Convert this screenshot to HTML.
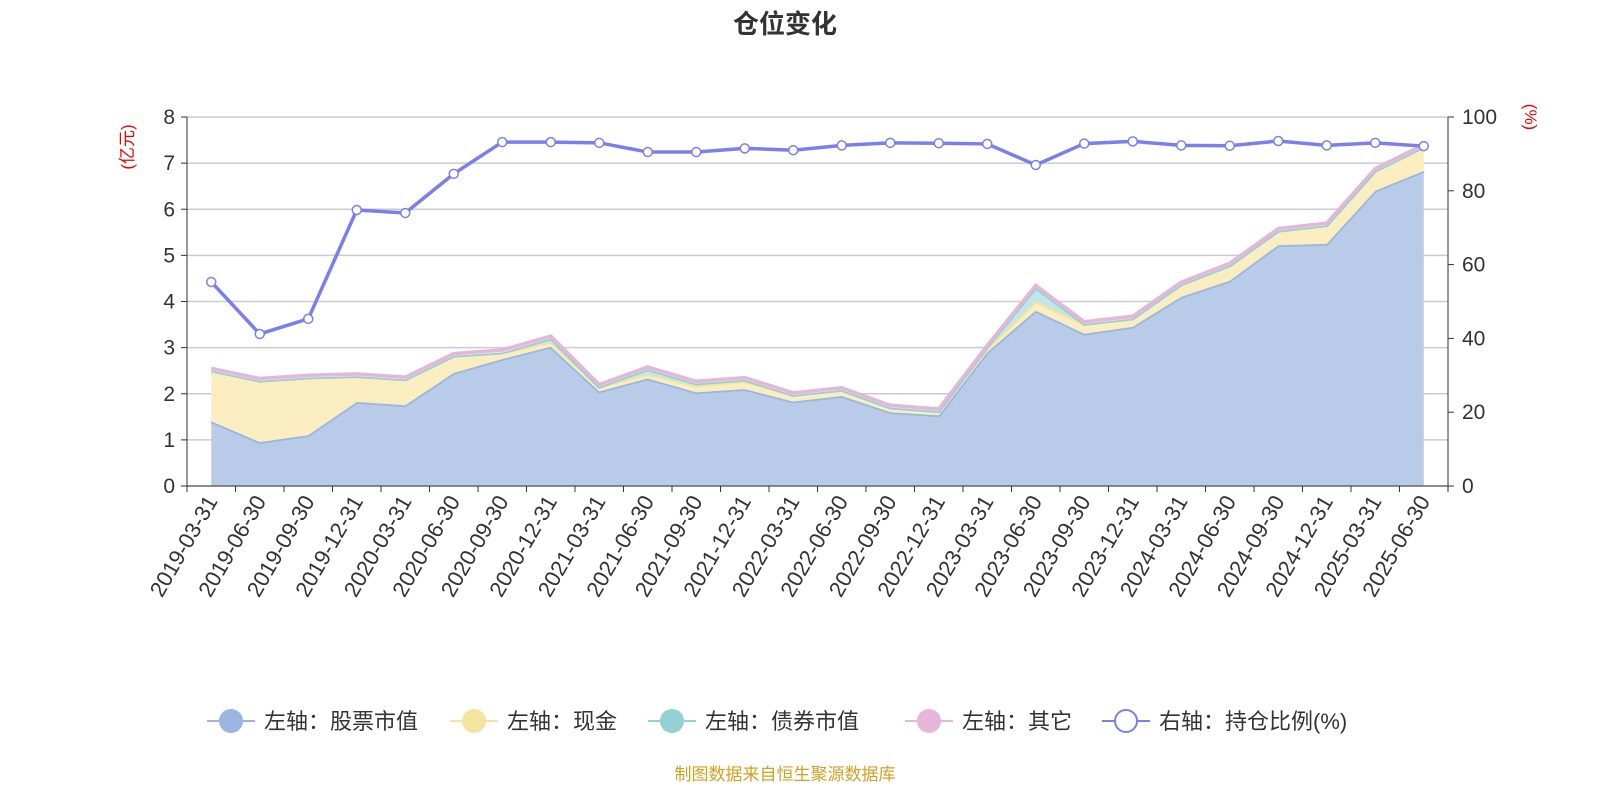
<!DOCTYPE html>
<html><head><meta charset="utf-8"><style>
body{margin:0;background:#fff;width:1600px;height:800px;overflow:hidden;font-family:"Liberation Sans","Noto Sans CJK SC",sans-serif}
</style></head><body>
<svg id="c" width="1600" height="800" xmlns="http://www.w3.org/2000/svg" font-family="Liberation Sans, Noto Sans CJK SC, sans-serif">
<text x="785" y="33" text-anchor="middle" font-size="26" font-weight="bold" fill="#333">仓位变化</text>
<text transform="translate(133,147) rotate(-90)" text-anchor="middle" font-size="17" fill="#e00">(亿元)</text>
<text transform="translate(1525,117) rotate(90)" text-anchor="middle" font-size="17" fill="#e00">(%)</text>
<g id="grid"></g><g id="areas"></g><g id="axes"></g><g id="ratio"></g>
<g id="legend"></g>
<text x="785" y="780" text-anchor="middle" font-size="17" fill="#d4a020">制图数据来自恒生聚源数据库</text>
</svg>
<script>
const categories=["2019-03-31","2019-06-30","2019-09-30","2019-12-31","2020-03-31","2020-06-30","2020-09-30","2020-12-31","2021-03-31","2021-06-30","2021-09-30","2021-12-31","2022-03-31","2022-06-30","2022-09-30","2022-12-31","2023-03-31","2023-06-30","2023-09-30","2023-12-31","2024-03-31","2024-06-30","2024-09-30","2024-12-31","2025-03-31","2025-06-30"];
const stockValues=[1.4,0.95,1.1,1.82,1.75,2.45,2.75,3.02,2.05,2.33,2.03,2.1,1.83,1.95,1.6,1.53,2.9,3.8,3.3,3.45,4.1,4.45,5.22,5.25,6.4,6.83];
const cashValues=[1.1,1.33,1.25,0.56,0.56,0.37,0.14,0.1,0.1,0.1,0.14,0.17,0.14,0.13,0.1,0.09,0.08,0.2,0.21,0.18,0.27,0.33,0.31,0.4,0.43,0.52];
const bondValues=[0,0,0,0,0,0,0,0.08,0,0.1,0.05,0.03,0,0,0,0,0.03,0.3,0,0,0,0,0,0,0,0];
const otherValues=[0.05,0.05,0.05,0.05,0.05,0.05,0.06,0.05,0.05,0.05,0.05,0.05,0.05,0.05,0.05,0.05,0.04,0.05,0.05,0.05,0.05,0.05,0.05,0.05,0.05,0.05];
const ratioValues=[55.3,41.2,45.3,74.8,74,84.6,93.2,93.2,93,90.5,90.5,91.5,91,92.3,93,92.9,92.7,87,92.8,93.4,92.3,92.2,93.5,92.3,93,92.1];
const leftTicks=[0,1,2,3,4,5,6,7,8];
const rightTicks=[0,20,40,60,80,100];
const X0=187,X1=1448,Y0=486,Y1=117,NS="http://www.w3.org/2000/svg";
const bw=(X1-X0)/categories.length;
const xs=i=>X0+bw*(i+0.5);
const yl=v=>Y0-(v/8)*(Y0-Y1);
const yr=v=>Y0-(v/100)*(Y0-Y1);
function mk(t,a,p){const e=document.createElementNS(NS,t);for(const k in a)e.setAttribute(k,a[k]);p.appendChild(e);return e;}
const g=document.getElementById('grid'),ax=document.getElementById('axes');
leftTicks.forEach((t,i)=>{
 const l=mk('line',{x1:X0,x2:X1,y1:yl(t),y2:yl(t),stroke:'#ccc','stroke-width':1.5},g);
 
 
 const tx=mk('text',{x:X0-12,y:yl(t)+7,'text-anchor':'end','font-size':21,fill:'#333'},ax);tx.textContent=t;
 
 
 mk('line',{x1:X0-6,x2:X0,y1:yl(t),y2:yl(t),stroke:'#333'},ax);
});
rightTicks.forEach(t=>{
 const tx=mk('text',{x:X1+14,y:yr(t)+7,'font-size':21,fill:'#333'},ax);tx.textContent=t;
 
 
 mk('line',{x1:X1,x2:X1+6,y1:yr(t),y2:yr(t),stroke:'#333'},ax);
});
mk('line',{x1:X0,x2:X0,y1:Y1,y2:Y0,stroke:'#333'},ax);
mk('line',{x1:X1,x2:X1,y1:Y1,y2:Y0,stroke:'#333'},ax);
mk('line',{x1:X0,x2:X1,y1:Y0,y2:Y0,stroke:'#333'},ax);
for(let i=0;i<=categories.length;i++)mk('line',{x1:X0+bw*i,x2:X0+bw*i,y1:Y0,y2:Y0+6,stroke:'#333'},ax);
categories.forEach((c,i)=>{
 const tx=mk('text',{transform:`translate(${xs(i)+7},${Y0+15}) rotate(-60)`,'text-anchor':'end','font-size':22,fill:'#333'},ax);tx.textContent=c;
 
 
});
const series=[[stockValues,'#b8cce9','#9ab5e0','stock-area'],[cashValues,'#faedbf','#f5e3a0','cash-area'],[bondValues,'#c2e6e6','#93d1d2','bond-area'],[otherValues,'#f3dcee','#e5b6d9','other-area']];
const ar=document.getElementById('areas');let base=categories.map(()=>0);
series.forEach(([vals,fill,stroke,name])=>{
 const top=vals.map((v,i)=>base[i]+v);
 let d='M'+top.map((v,i)=>xs(i)+','+yl(v)).join('L');
 const d2=d+'L'+base.map((v,i)=>[i,v]).reverse().map(([i,v])=>xs(i)+','+yl(v)).join('L')+'Z';
 const a=mk('path',{d:d2,fill:fill,stroke:'none'},ar);
 
 
 const l=mk('path',{d:d,fill:'none',stroke:stroke,'stroke-width':3.5},ar);
 
 
 base=top;
});
const rg=document.getElementById('ratio');
const rl=mk('path',{d:'M'+ratioValues.map((v,i)=>xs(i)+','+yr(v)).join('L'),fill:'none',stroke:'#7b7ef0','stroke-width':3.5},rg);


ratioValues.forEach((v,i)=>{
 const p=mk('circle',{cx:xs(i),cy:yr(v),r:4.5,fill:'#fff',stroke:'#7b7ef0','stroke-width':1.5},rg);
 
 
});
const legendItems=[['左轴：股票市值','#9ab5e0',207,true],['左轴：现金','#f5e3a0',450,true],['左轴：债券市值','#93d1d2',648,true],['左轴：其它','#e5b6d9',905,true],['右轴：持仓比例(%)','#7b7ef0',1102,false]];
const lg=document.getElementById('legend');
legendItems.forEach(([t,c,x,filled])=>{
 const gi=mk('g',{},lg);
 
 
 mk('line',{x1:x,x2:x+48,y1:721,y2:721,stroke:c,'stroke-width':2},gi);
 mk('circle',{cx:x+24,cy:721,r:11,fill:filled?c:'#fff',stroke:c,'stroke-width':2},gi);
 const tx=mk('text',{x:x+57,y:729,'font-size':22,fill:'#333'},gi);tx.textContent=t;
});
</script>
</body></html>
